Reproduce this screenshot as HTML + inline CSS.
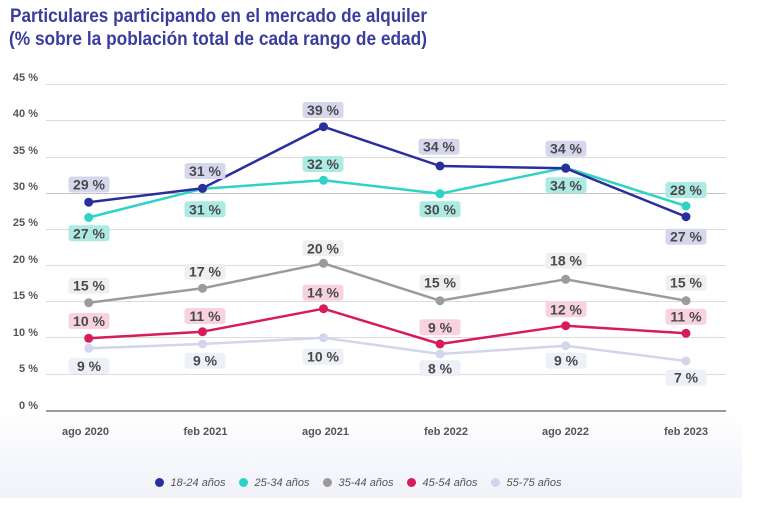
<!DOCTYPE html>
<html>
<head>
<meta charset="utf-8">
<style>
  html,body{margin:0;padding:0;background:#fff;}
  body{width:765px;height:518px;overflow:hidden;}
  svg{display:block;}
  .yl{font-family:"Liberation Sans",sans-serif;font-weight:bold;font-size:11px;fill:#555;}
  .xl{font-family:"Liberation Sans",sans-serif;font-weight:bold;font-size:11px;fill:#555;}
  .dl{font-family:"Liberation Sans",sans-serif;font-weight:bold;font-size:14px;fill:#4a4a4a;}
  .lg{font-family:"Liberation Sans",sans-serif;font-style:italic;font-size:11px;fill:#555;}
  .tt{font-family:"Liberation Sans",sans-serif;font-weight:bold;font-size:19px;fill:#3a3d9e;}
</style>
</head>
<body>
<svg width="765" height="518" viewBox="0 0 765 518" xmlns="http://www.w3.org/2000/svg">
  <defs>
    <linearGradient id="bg" x1="0" y1="0" x2="0" y2="1">
      <stop offset="0" stop-color="#ffffff"/>
      <stop offset="0.5" stop-color="#f7f8fc"/>
      <stop offset="1" stop-color="#f1f3fa"/>
    </linearGradient>
  </defs>
  <rect x="0" y="0" width="765" height="518" fill="#fff"/>
  <rect x="0" y="412" width="742" height="86" fill="url(#bg)"/>

  <!-- Title -->
  <text class="tt" x="10" y="22" textLength="417" lengthAdjust="spacingAndGlyphs">Particulares participando en el mercado de alquiler</text>
  <text class="tt" x="9" y="45" textLength="418" lengthAdjust="spacingAndGlyphs">(% sobre la población total de cada rango de edad)</text>

  <!-- Gridlines -->
  <g stroke="#dcdcdc" stroke-width="1">
    <line x1="46" x2="726" y1="84.5" y2="84.5"/>
    <line x1="46" x2="726" y1="120.5" y2="120.5"/>
    <line x1="46" x2="726" y1="157.5" y2="157.5"/>
    <line x1="46" x2="726" y1="193.5" y2="193.5" stroke="#c4c4c4"/>
    <line x1="46" x2="726" y1="229.5" y2="229.5"/>
    <line x1="46" x2="726" y1="265.5" y2="265.5"/>
    <line x1="46" x2="726" y1="301.5" y2="301.5"/>
    <line x1="46" x2="726" y1="337.5" y2="337.5"/>
    <line x1="46" x2="726" y1="374.5" y2="374.5"/>
  </g>
  <line x1="46" x2="726" y1="411" y2="411" stroke="#9a9a9a" stroke-width="2"/>

  <!-- Y labels -->
  <g class="yl" text-anchor="end">
    <text x="38" y="81">45 %</text>
    <text x="38" y="117">40 %</text>
    <text x="38" y="154">35 %</text>
    <text x="38" y="190">30 %</text>
    <text x="38" y="226">25 %</text>
    <text x="38" y="263">20 %</text>
    <text x="38" y="299">15 %</text>
    <text x="38" y="336">10 %</text>
    <text x="38" y="372">5 %</text>
    <text x="38" y="409">0 %</text>
  </g>

  <!-- X labels -->
  <g class="xl" text-anchor="middle">
    <text x="85.5" y="435">ago 2020</text>
    <text x="205.5" y="435">feb 2021</text>
    <text x="325.5" y="435">ago 2021</text>
    <text x="446" y="435">feb 2022</text>
    <text x="565.5" y="435">ago 2022</text>
    <text x="686" y="435">feb 2023</text>
  </g>

  <!-- Series: 55-75 -->
  <g>
    <polyline fill="none" stroke="#d3d5ec" stroke-width="2.5" stroke-linejoin="round" points="88.7,348.3 202.5,344 323.5,337.7 440,354 565.7,345.7 686,361"/>
    <g fill="#d3d5ec">
      <circle cx="88.7" cy="348.3" r="4.5"/><circle cx="202.5" cy="344" r="4.5"/><circle cx="323.5" cy="337.7" r="4.5"/>
      <circle cx="440" cy="354" r="4.5"/><circle cx="565.7" cy="345.7" r="4.5"/><circle cx="686" cy="361" r="4.5"/>
    </g>
  </g>
  <!-- Series: 45-54 -->
  <g>
    <polyline fill="none" stroke="#d81b5a" stroke-width="2.5" stroke-linejoin="round" points="88.7,338.3 202.5,331.7 323.5,308.7 440,344 565.7,325.7 686,333.3"/>
    <g fill="#d81b5a">
      <circle cx="88.7" cy="338.3" r="4.5"/><circle cx="202.5" cy="331.7" r="4.5"/><circle cx="323.5" cy="308.7" r="4.5"/>
      <circle cx="440" cy="344" r="4.5"/><circle cx="565.7" cy="325.7" r="4.5"/><circle cx="686" cy="333.3" r="4.5"/>
    </g>
  </g>
  <!-- Series: 35-44 -->
  <g>
    <polyline fill="none" stroke="#9b9b9b" stroke-width="2.5" stroke-linejoin="round" points="88.7,302.7 202.5,288.3 323.5,263.3 440,300.7 565.7,279.3 686,300.7"/>
    <g fill="#9b9b9b">
      <circle cx="88.7" cy="302.7" r="4.5"/><circle cx="202.5" cy="288.3" r="4.5"/><circle cx="323.5" cy="263.3" r="4.5"/>
      <circle cx="440" cy="300.7" r="4.5"/><circle cx="565.7" cy="279.3" r="4.5"/><circle cx="686" cy="300.7" r="4.5"/>
    </g>
  </g>
  <!-- Series: 25-34 -->
  <g>
    <polyline fill="none" stroke="#2fd3c5" stroke-width="2.5" stroke-linejoin="round" points="88.7,217.5 202.5,188.8 323.5,180.3 440,193.7 565.7,167.7 686,206"/>
    <g fill="#2fd3c5">
      <circle cx="88.7" cy="217.5" r="4.5"/><circle cx="202.5" cy="188.8" r="4.5"/><circle cx="323.5" cy="180.3" r="4.5"/>
      <circle cx="440" cy="193.7" r="4.5"/><circle cx="565.7" cy="167.7" r="4.5"/><circle cx="686" cy="206" r="4.5"/>
    </g>
  </g>
  <!-- Series: 18-24 -->
  <g>
    <polyline fill="none" stroke="#2b2f9e" stroke-width="2.5" stroke-linejoin="round" points="88.7,202.2 202.5,188.3 323.5,126.7 440,166 565.7,168.3 686,216.7"/>
    <g fill="#2b2f9e">
      <circle cx="88.7" cy="202.2" r="4.5"/><circle cx="202.5" cy="188.3" r="4.5"/><circle cx="323.5" cy="126.7" r="4.5"/>
      <circle cx="440" cy="166" r="4.5"/><circle cx="565.7" cy="168.3" r="4.5"/><circle cx="686" cy="216.7" r="4.5"/>
    </g>
  </g>

  <!-- Data labels: 18-24 -->
  <g>
    <g fill="#d6d7ed">
      <rect x="68.5" y="176.5" width="41" height="16" rx="3"/>
      <rect x="184.5" y="163" width="41" height="16" rx="3"/>
      <rect x="302.5" y="102" width="41" height="16" rx="3"/>
      <rect x="418.5" y="138.7" width="41" height="16" rx="3"/>
      <rect x="545.5" y="140.7" width="41" height="16" rx="3"/>
      <rect x="665.5" y="228.7" width="41" height="16" rx="3"/>
    </g>
    <g class="dl" text-anchor="middle">
      <text x="89" y="189.5">29 %</text>
      <text x="205" y="176">31 %</text>
      <text x="323" y="115">39 %</text>
      <text x="439" y="151.7">34 %</text>
      <text x="566" y="153.7">34 %</text>
      <text x="686" y="241.7">27 %</text>
    </g>
  </g>
  <!-- Data labels: 25-34 -->
  <g>
    <g fill="#aeeae4">
      <rect x="68.5" y="225.3" width="41" height="16" rx="3"/>
      <rect x="184.5" y="201.3" width="41" height="16" rx="3"/>
      <rect x="302.5" y="156" width="41" height="16" rx="3"/>
      <rect x="419.5" y="201.3" width="41" height="16" rx="3"/>
      <rect x="545.5" y="177.3" width="41" height="16" rx="3"/>
      <rect x="665.5" y="182" width="41" height="16" rx="3"/>
    </g>
    <g class="dl" text-anchor="middle">
      <text x="89" y="238.3">27 %</text>
      <text x="205" y="214.3">31 %</text>
      <text x="323" y="169">32 %</text>
      <text x="440" y="214.3">30 %</text>
      <text x="566" y="190.3">34 %</text>
      <text x="686" y="195">28 %</text>
    </g>
  </g>
  <!-- Data labels: 35-44 -->
  <g>
    <g fill="#efefef">
      <rect x="68.5" y="277.7" width="41" height="16" rx="3"/>
      <rect x="184.5" y="263.7" width="41" height="16" rx="3"/>
      <rect x="302.5" y="240.3" width="41" height="16" rx="3"/>
      <rect x="419.5" y="274.7" width="41" height="16" rx="3"/>
      <rect x="545.5" y="252.7" width="41" height="16" rx="3"/>
      <rect x="665.5" y="274.7" width="41" height="16" rx="3"/>
    </g>
    <g class="dl" text-anchor="middle">
      <text x="89" y="290.7">15 %</text>
      <text x="205" y="276.7">17 %</text>
      <text x="323" y="253.3">20 %</text>
      <text x="440" y="287.7">15 %</text>
      <text x="566" y="265.7">18 %</text>
      <text x="686" y="287.7">15 %</text>
    </g>
  </g>
  <!-- Data labels: 45-54 -->
  <g>
    <g fill="#f8d3dd">
      <rect x="68.5" y="313" width="41" height="16" rx="3"/>
      <rect x="184.5" y="308" width="41" height="16" rx="3"/>
      <rect x="302.5" y="284.7" width="41" height="16" rx="3"/>
      <rect x="419.5" y="319.3" width="41" height="16" rx="3"/>
      <rect x="545.5" y="301.3" width="41" height="16" rx="3"/>
      <rect x="665.5" y="308.7" width="41" height="16" rx="3"/>
    </g>
    <g class="dl" text-anchor="middle">
      <text x="89" y="326">10 %</text>
      <text x="205" y="321">11 %</text>
      <text x="323" y="297.7">14 %</text>
      <text x="440" y="332.3">9 %</text>
      <text x="566" y="314.3">12 %</text>
      <text x="686" y="321.7">11 %</text>
    </g>
  </g>
  <!-- Data labels: 55-75 -->
  <g>
    <g fill="#eef0f8">
      <rect x="68.5" y="358" width="41" height="16" rx="3"/>
      <rect x="184.5" y="352.7" width="41" height="16" rx="3"/>
      <rect x="302.5" y="348.7" width="41" height="16" rx="3"/>
      <rect x="419.5" y="360.3" width="41" height="16" rx="3"/>
      <rect x="545.5" y="352.7" width="41" height="16" rx="3"/>
      <rect x="665.5" y="369.7" width="41" height="16" rx="3"/>
    </g>
    <g class="dl" text-anchor="middle">
      <text x="89" y="371">9 %</text>
      <text x="205" y="365.7">9 %</text>
      <text x="323" y="361.7">10 %</text>
      <text x="440" y="373.3">8 %</text>
      <text x="566" y="365.7">9 %</text>
      <text x="686" y="382.7">7 %</text>
    </g>
  </g>

  <!-- Legend -->
  <g>
    <circle cx="159.5" cy="482.5" r="4.5" fill="#2b2f9e"/>
    <text class="lg" x="170.5" y="486">18-24 años</text>
    <circle cx="243.5" cy="482.5" r="4.5" fill="#2fd3c5"/>
    <text class="lg" x="254.5" y="486">25-34 años</text>
    <circle cx="327.5" cy="482.5" r="4.5" fill="#9b9b9b"/>
    <text class="lg" x="338.5" y="486">35-44 años</text>
    <circle cx="411.5" cy="482.5" r="4.5" fill="#d81b5a"/>
    <text class="lg" x="422.5" y="486">45-54 años</text>
    <circle cx="495.5" cy="482.5" r="4.5" fill="#d3d5ec"/>
    <text class="lg" x="506.5" y="486">55-75 años</text>
  </g>
</svg>
</body>
</html>
